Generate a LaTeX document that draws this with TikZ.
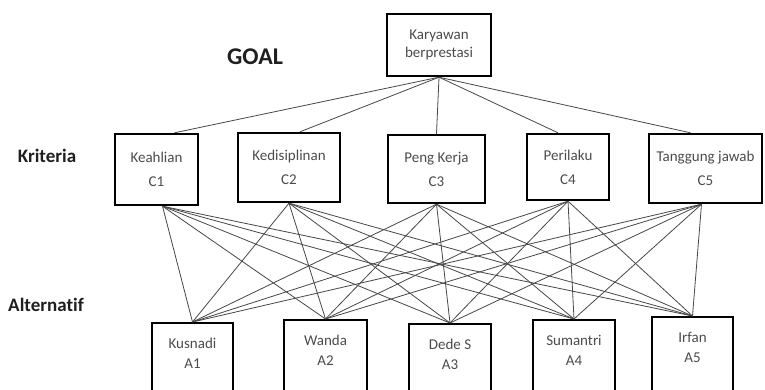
\documentclass[tikz,border=0pt]{standalone}
\usepackage{fontspec}
\setmainfont{Carlito}[Ligatures=NoCommon]
\begin{document}
\begin{tikzpicture}[x=1pt,y=-1pt,
  box/.style={draw=black, line width=2.4pt, fill=white, rectangle, inner sep=0pt, align=center, text=black!70, font=\fontsize{15}{24}\selectfont},
  abox/.style={box, anchor=north, minimum height=80pt, font=\fontsize{15}{20}\selectfont},
  link/.style={draw=black!72, line width=0.8pt},
  lvl/.style={font=\bfseries, text=black!88, inner sep=0pt}
]
\useasboundingbox (0,0) rectangle (765,390);
\clip (0,0) rectangle (765,390);
\fill[white] (0,0) rectangle (765,390);

% level labels
\node[lvl, font=\fontsize{24}{26}\selectfont\bfseries] (goallbl) at (255,57) {GOAL};
\node[lvl, font=\fontsize{19}{22}\selectfont\bfseries] (krit) at (47,156) {Kriteria};
\node[lvl, font=\fontsize{19}{22}\selectfont\bfseries] (alt) at (46,305) {Alternatif};

% goal
\node[box, minimum width=104pt, minimum height=62pt, font=\fontsize{15}{18}\selectfont] (goal) at (439,45) {Karyawan\\berprestasi};

% criteria
\node[box, minimum width=83pt,  minimum height=71pt] (c1) at (156.5,169.5) {Keahlian\\C1};
\node[box, minimum width=102pt, minimum height=69pt] (c2) at (289,167.5) {Kedisiplinan\\C2};
\node[box, minimum width=97pt,  minimum height=68pt] (c3) at (436.5,169) {Peng Kerja\\C3};
\node[box, minimum width=82pt,  minimum height=66pt] (c4) at (568,167) {Perilaku\\C4};
\node[box, minimum width=113pt, minimum height=69pt] (c5) at (705.5,168.5) {Tanggung jawab\\C5};

% alternatives
\node[abox, minimum width=81pt] (a1) at (192.5,322) {Kusnadi\\A1\\\mbox{}};
\node[abox, minimum width=83pt] (a2) at (325.5,319) {Wanda\\A2\\\mbox{}};
\node[abox, minimum width=82pt] (a3) at (450,323) {Dede S\\A3\\\mbox{}};
\node[abox, minimum width=82pt] (a4) at (574,319) {Sumantri\\A4\\\mbox{}};
\node[abox, minimum width=81pt] (a5) at (692.5,316) {Irfan\\A5\\\mbox{}};

% connectors goal -> criteria
\foreach \c/\dx in {c1/18,c2/11,c3/0,c4/-10,c5/-15}
  \draw[link] (goal.south) -- ([xshift=\dx pt]\c.north);
% connectors criteria -> alternatives
\foreach \c/\dx in {c1/6,c2/0,c3/0,c4/0,c5/-4}
  \foreach \a in {a1,a2,a3,a4,a5}
    \draw[link] ([xshift=\dx pt]\c.south) -- (\a.north);
\end{tikzpicture}
\end{document}
